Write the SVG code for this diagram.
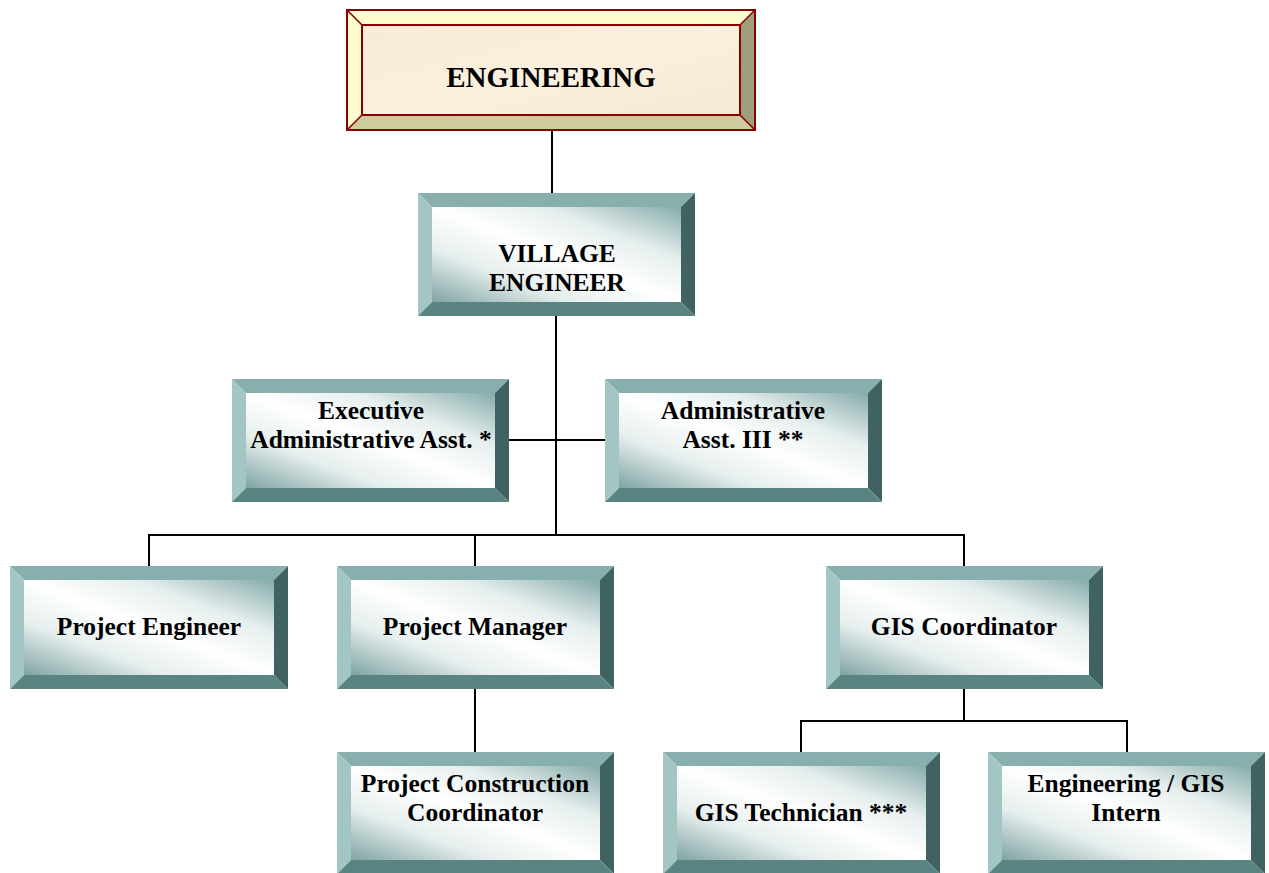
<svg xmlns="http://www.w3.org/2000/svg" width="1269" height="873" viewBox="0 0 1269 873">
<defs>
<linearGradient id="face" x1="0" y1="1" x2="1" y2="0">
<stop offset="0" stop-color="#7FA4A2"/>
<stop offset="0.28" stop-color="#E6EEEE"/>
<stop offset="0.5" stop-color="#FFFFFF"/>
<stop offset="0.72" stop-color="#E6EEEE"/>
<stop offset="1" stop-color="#86ACAA"/>
</linearGradient>
<linearGradient id="cream" x1="0" y1="0" x2="1" y2="1">
<stop offset="0" stop-color="#F7EBD6"/>
<stop offset="0.5" stop-color="#FBF0DE"/>
<stop offset="1" stop-color="#F6E9D3"/>
</linearGradient>
</defs>
<style>
.t{font-family:"Liberation Serif","Times New Roman",serif;font-weight:bold;font-size:25.5px;fill:#000;text-anchor:middle}
.bt{fill:#87AFAD}.bl{fill:#A3C6C4}.br{fill:#406260}.bb{fill:#5A8482}
.ln{stroke:#000;stroke-width:2;fill:none}
</style>
<rect width="1269" height="873" fill="#fff"/>
<g id="connectors">
<path class="ln" d="M552 130V193"/>
<path class="ln" d="M556 316V535"/>
<path class="ln" d="M509 440H605"/>
<path class="ln" d="M149 535H964M149 534V566M475 534V566M964 534V566"/>
<path class="ln" d="M475 689V752"/>
<path class="ln" d="M964 689V721M801 721H1127M801 720V752M1127 720V752"/>
</g>
<g id="engineering">
<polygon points="347,10 755,10 740,25 362,25" fill="#FFFDD0"/>
<polygon points="347,10 362,25 362,115 347,130" fill="#FFFDD0"/>
<polygon points="755,10 755,130 740,115 740,25" fill="#A09E7A"/>
<polygon points="347,130 362,115 740,115 755,130" fill="#CCCC9E"/>
<rect x="362" y="25" width="378" height="90" fill="url(#cream)"/>
<g stroke="#8B0000" stroke-width="2" fill="none">
<rect x="347" y="10" width="408" height="120"/>
<rect x="362" y="25" width="378" height="90"/>
<path d="M347 10L362 25M755 10L740 25M347 130L362 115M755 130L740 115" stroke-width="1.5"/>
</g>
<text class="t" x="551" y="87" style="font-size:29px">ENGINEERING</text>
</g>
<g id="village-engineer" transform="translate(418,193)">
<polygon class="bt" points="0,0 277,0 263,14 14,14"/>
<polygon class="bl" points="0,0 14,14 14,109 0,123"/>
<polygon class="br" points="277,0 277,123 263,109 263,14"/>
<polygon class="bb" points="0,123 14,109 263,109 277,123"/>
<rect x="14" y="14" width="249" height="95" fill="url(#face)"/>
<text class="t" x="139" y="69">VILLAGE</text>
<text class="t" x="139" y="98">ENGINEER</text>
</g>
<g id="exec-admin" transform="translate(232,379)">
<polygon class="bt" points="0,0 277,0 263,14 14,14"/>
<polygon class="bl" points="0,0 14,14 14,109 0,123"/>
<polygon class="br" points="277,0 277,123 263,109 263,14"/>
<polygon class="bb" points="0,123 14,109 263,109 277,123"/>
<rect x="14" y="14" width="249" height="95" fill="url(#face)"/>
<text class="t" x="139" y="40">Executive</text>
<text class="t" x="139" y="69">Administrative Asst. *</text>
</g>
<g id="admin-asst" transform="translate(605,379)">
<polygon class="bt" points="0,0 277,0 263,14 14,14"/>
<polygon class="bl" points="0,0 14,14 14,109 0,123"/>
<polygon class="br" points="277,0 277,123 263,109 263,14"/>
<polygon class="bb" points="0,123 14,109 263,109 277,123"/>
<rect x="14" y="14" width="249" height="95" fill="url(#face)"/>
<text class="t" x="138" y="40">Administrative</text>
<text class="t" x="138" y="69">Asst. III **</text>
</g>
<g id="project-engineer" transform="translate(10,566)">
<polygon class="bt" points="0,0 278,0 264,14 14,14"/>
<polygon class="bl" points="0,0 14,14 14,109 0,123"/>
<polygon class="br" points="278,0 278,123 264,109 264,14"/>
<polygon class="bb" points="0,123 14,109 264,109 278,123"/>
<rect x="14" y="14" width="250" height="95" fill="url(#face)"/>
<text class="t" x="139" y="69">Project Engineer</text>
</g>
<g id="project-manager" transform="translate(337,566)">
<polygon class="bt" points="0,0 277,0 263,14 14,14"/>
<polygon class="bl" points="0,0 14,14 14,109 0,123"/>
<polygon class="br" points="277,0 277,123 263,109 263,14"/>
<polygon class="bb" points="0,123 14,109 263,109 277,123"/>
<rect x="14" y="14" width="249" height="95" fill="url(#face)"/>
<text class="t" x="138" y="69">Project Manager</text>
</g>
<g id="gis-coordinator" transform="translate(826,566)">
<polygon class="bt" points="0,0 277,0 263,14 14,14"/>
<polygon class="bl" points="0,0 14,14 14,109 0,123"/>
<polygon class="br" points="277,0 277,123 263,109 263,14"/>
<polygon class="bb" points="0,123 14,109 263,109 277,123"/>
<rect x="14" y="14" width="249" height="95" fill="url(#face)"/>
<text class="t" x="138" y="69">GIS Coordinator</text>
</g>
<g id="project-construction-coordinator" transform="translate(337,752)">
<polygon class="bt" points="0,0 277,0 263,14 14,14"/>
<polygon class="bl" points="0,0 14,14 14,108 0,122"/>
<polygon class="br" points="277,0 277,122 263,108 263,14"/>
<polygon class="bb" points="0,122 14,108 263,108 277,122"/>
<rect x="14" y="14" width="249" height="94" fill="url(#face)"/>
<text class="t" x="138" y="40">Project Construction</text>
<text class="t" x="138" y="69">Coordinator</text>
</g>
<g id="gis-technician" transform="translate(663,752)">
<polygon class="bt" points="0,0 277,0 263,14 14,14"/>
<polygon class="bl" points="0,0 14,14 14,108 0,122"/>
<polygon class="br" points="277,0 277,122 263,108 263,14"/>
<polygon class="bb" points="0,122 14,108 263,108 277,122"/>
<rect x="14" y="14" width="249" height="94" fill="url(#face)"/>
<text class="t" x="138" y="69">GIS Technician ***</text>
</g>
<g id="engineering-gis-intern" transform="translate(988,752)">
<polygon class="bt" points="0,0 277,0 263,14 14,14"/>
<polygon class="bl" points="0,0 14,14 14,108 0,122"/>
<polygon class="br" points="277,0 277,122 263,108 263,14"/>
<polygon class="bb" points="0,122 14,108 263,108 277,122"/>
<rect x="14" y="14" width="249" height="94" fill="url(#face)"/>
<text class="t" x="138" y="40">Engineering / GIS</text>
<text class="t" x="138" y="69">Intern</text>
</g>
</svg>
